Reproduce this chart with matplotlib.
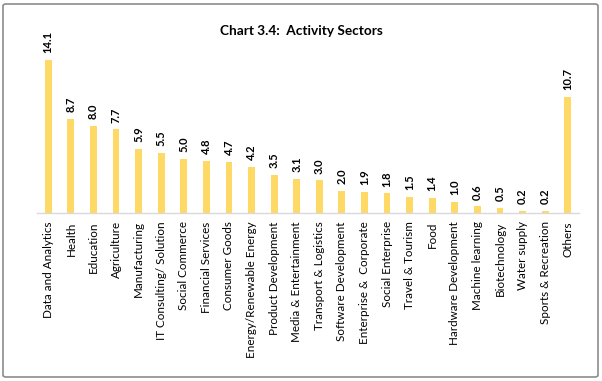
import matplotlib
matplotlib.use("Agg")
import matplotlib.pyplot as plt
from matplotlib.patches import FancyBboxPatch

categories = ["Data and Analytics", "Health", "Education", "Agriculture", "Manufacturing",
              "IT Consulting/ Solution", "Social Commerce", "Financial Services", "Consumer Goods",
              "Energy/Renewable Energy", "Product Development", "Media & Entertainment",
              "Transport & Logistics", "Software Development", "Enterprise &  Corporate",
              "Social Enterprise", "Travel & Tourism", "Food", "Hardware Development",
              "Machine learning", "Biotechnology", "Water supply", "Sports & Recreation", "Others"]
values = [14.1, 8.7, 8.0, 7.7, 5.9, 5.5, 5.0, 4.8, 4.7, 4.2, 3.5, 3.1, 3.0, 2.0, 1.9, 1.8,
          1.5, 1.4, 1.0, 0.6, 0.5, 0.2, 0.2, 10.7]
title = "Chart 3.4:  Activity Sectors"

plt.rcParams['font.family'] = ['Lato', 'DejaVu Sans']

W, H = 602, 381
fig = plt.figure(figsize=(W / 100, H / 100), dpi=100)

n = len(categories)
left_px, right_px = 37, 579
base_px = 213
ymax = 16.0
top_px = base_px - ymax * 10.85
ax = fig.add_axes([left_px / W, 1 - base_px / H, (right_px - left_px) / W, (base_px - top_px) / H])

x = list(range(n))
ax.bar(x, values, width=0.3, color="#FFD966", zorder=2)
for xi, v in zip(x, values):
    ax.annotate(f"{v:.1f}", (xi, v), xytext=(0, 5), textcoords="offset points",
                rotation=90, ha="center", va="bottom", fontsize=8, fontweight="bold", color="#000000")

ax.set_xlim(-0.5, n - 0.5)
ax.set_ylim(0, ymax)
ax.set_xticks(x)
ax.set_xticklabels(categories, rotation=90, fontsize=8.4, color="#000000")
ax.tick_params(axis="x", length=0, pad=6)
ax.set_yticks([])
for s in ["top", "right", "left"]:
    ax.spines[s].set_visible(False)
ax.spines["bottom"].set_color("#d9d9d9")
ax.spines["bottom"].set_linewidth(1.0)

fig.text(301 / W, 1 - 31 / H, title, ha="center", va="center", fontsize=9.8, fontweight="bold")

border = FancyBboxPatch((3 / W, 4 / H), (W - 7) / W, (H - 8) / H,
                        boxstyle="round,pad=0,rounding_size=0.005",
                        transform=fig.transFigure, fill=False, edgecolor="#8c8c8c", linewidth=1.2)
fig.patches.append(border)

fig.savefig("out.png", dpi=100)
